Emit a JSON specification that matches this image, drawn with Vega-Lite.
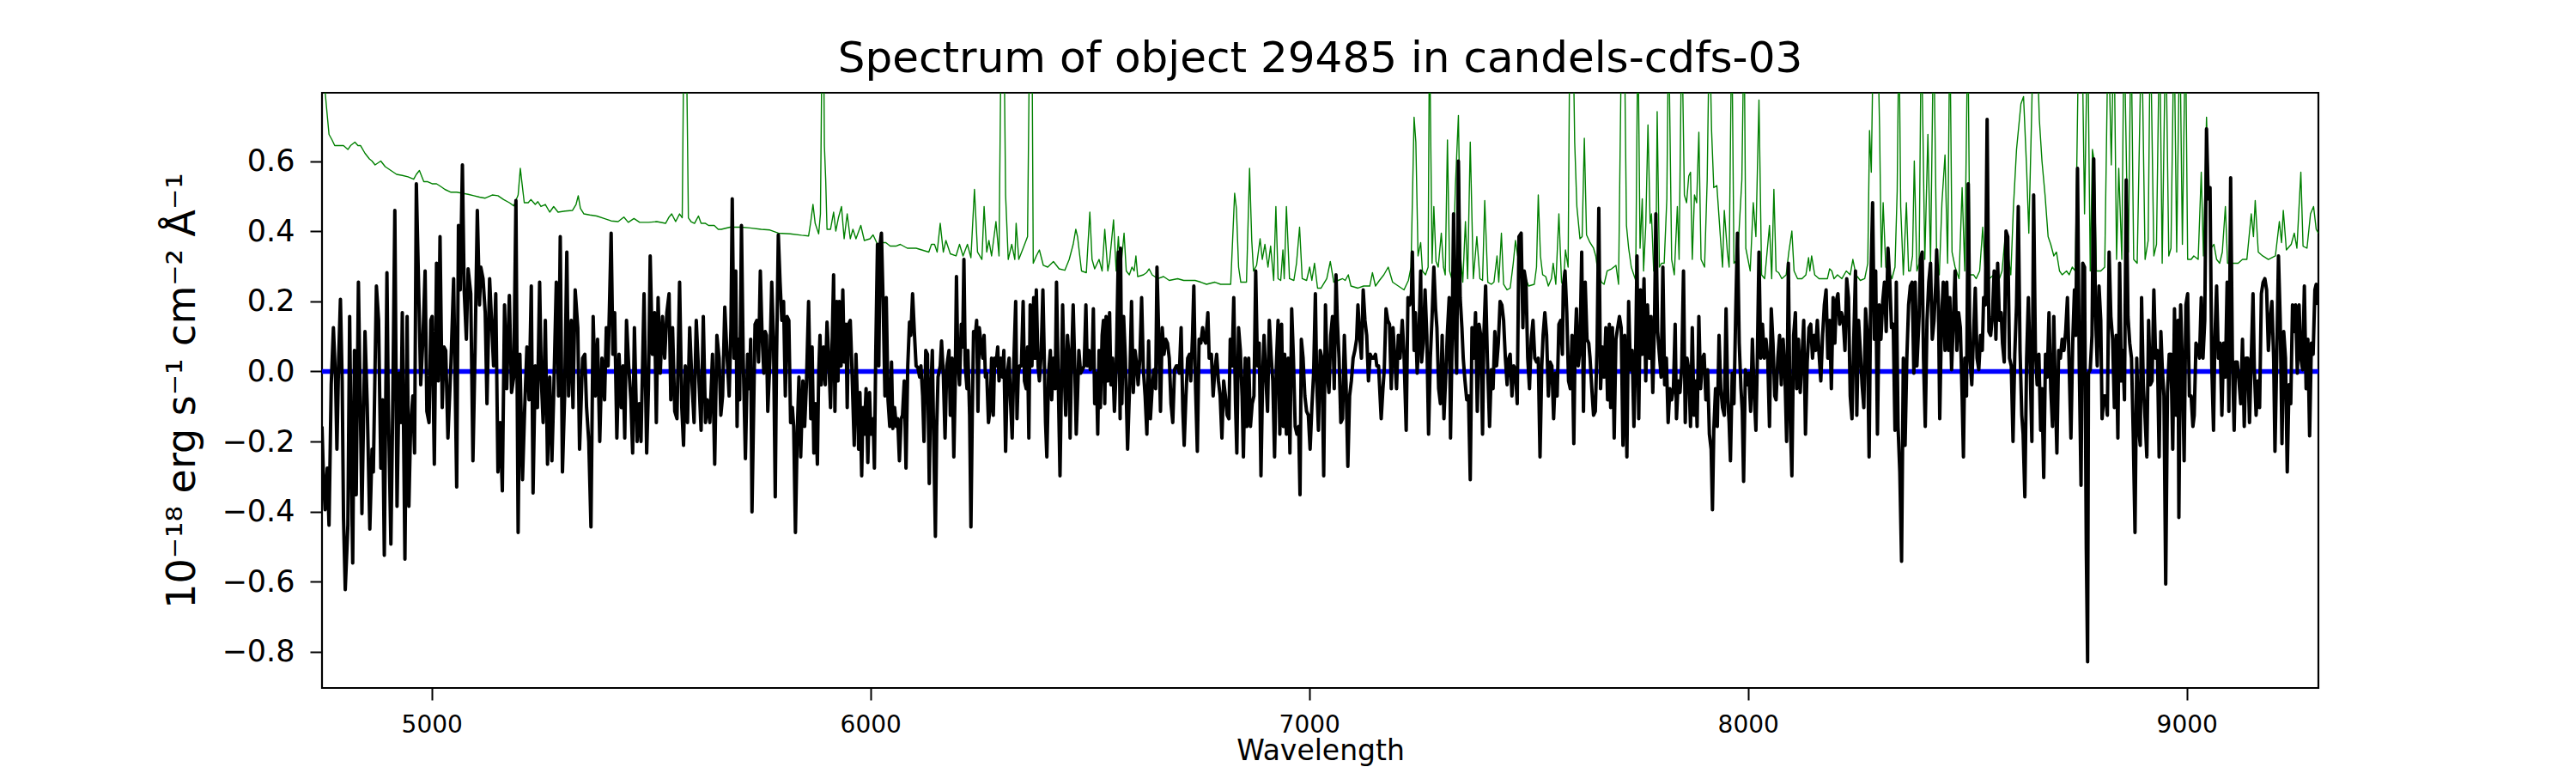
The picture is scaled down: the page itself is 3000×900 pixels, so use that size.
{
"$schema": "https://vega.github.io/schema/vega-lite/v6.json",
"width": 2325,
"height": 693,
"autosize": {"type": "none"},
"padding": {"left": 375, "top": 108, "right": 300, "bottom": 99},
"background": "white",
"title": {"text": "Spectrum of object 29485 in candels-cdfs-03", "fontSize": 50, "font": "DejaVu Sans", "fontWeight": "normal", "color": "black", "offset": 14, "anchor": "middle"},
"config": {
  "font": "DejaVu Sans",
  "view": {"stroke": "black", "strokeWidth": 2.2},
  "axis": {"grid": false, "domain": false, "ticks": true, "tickColor": "black", "tickWidth": 2, "tickSize": 14, "labelColor": "black", "titleColor": "black", "labelFont": "DejaVu Sans", "titleFont": "DejaVu Sans", "titleFontWeight": "normal"}
},
"datasets": {
"sky": [
{"w":4750,"f":0.95},{"w":4757,"f":0.80},{"w":4762,"f":0.731},{"w":4766,"f":0.677},{"w":4773,"f":0.661},{"w":4779,"f":0.645},{"w":4789,"f":0.645},{"w":4799,"f":0.645},{"w":4809,"f":0.634},{"w":4815,"f":0.645},{"w":4825,"f":0.655},{"w":4832,"f":0.645},{"w":4838,"f":0.645},{"w":4848,"f":0.623},{"w":4858,"f":0.607},{"w":4864,"f":0.601},{"w":4871,"f":0.590},{"w":4884,"f":0.601},{"w":4894,"f":0.585},{"w":4907,"f":0.574},{"w":4920,"f":0.563},{"w":4933,"f":0.560},{"w":4946,"f":0.556},{"w":4959,"f":0.549},{"w":4965,"f":0.563},{"w":4972,"f":0.574},{"w":4982,"f":0.542},{"w":4991,"f":0.542},{"w":5001,"f":0.536},{"w":5011,"f":0.536},{"w":5021,"f":0.528},{"w":5030,"f":0.520},{"w":5044,"f":0.512},{"w":5057,"f":0.512},{"w":5070,"f":0.509},{"w":5083,"f":0.506},{"w":5096,"f":0.502},{"w":5109,"f":0.498},{"w":5122,"f":0.495},{"w":5138,"f":0.504},{"w":5151,"f":0.502},{"w":5164,"f":0.491},{"w":5177,"f":0.482},{"w":5187,"f":0.473},{"w":5197,"f":0.504},{"w":5202,"f":0.580},{"w":5207,"f":0.525},{"w":5211,"f":0.482},{"w":5220,"f":0.482},{"w":5226,"f":0.491},{"w":5236,"f":0.477},{"w":5242,"f":0.485},{"w":5249,"f":0.471},{"w":5259,"f":0.477},{"w":5269,"f":0.455},{"w":5278,"f":0.471},{"w":5288,"f":0.455},{"w":5304,"f":0.458},{"w":5321,"f":0.460},{"w":5329,"f":0.477},{"w":5334,"f":0.502},{"w":5339,"f":0.466},{"w":5347,"f":0.450},{"w":5360,"f":0.447},{"w":5376,"f":0.444},{"w":5393,"f":0.437},{"w":5409,"f":0.430},{"w":5425,"f":0.428},{"w":5438,"f":0.441},{"w":5448,"f":0.426},{"w":5461,"f":0.437},{"w":5474,"f":0.426},{"w":5494,"f":0.426},{"w":5513,"f":0.428},{"w":5533,"f":0.423},{"w":5541,"f":0.441},{"w":5547,"f":0.450},{"w":5556,"f":0.428},{"w":5565,"f":0.450},{"w":5571,"f":0.439},{"w":5575,"f":1.0},{"w":5580,"f":1.0},{"w":5585,"f":0.439},{"w":5591,"f":0.428},{"w":5599,"f":0.423},{"w":5608,"f":0.444},{"w":5614,"f":0.423},{"w":5624,"f":0.423},{"w":5631,"f":0.417},{"w":5644,"f":0.417},{"w":5653,"f":0.406},
{"w":5660,"f":0.406},{"w":5680,"f":0.412},{"w":5706,"f":0.412},{"w":5725,"f":0.410},{"w":5751,"f":0.406},{"w":5771,"f":0.404},{"w":5790,"f":0.395},{"w":5817,"f":0.393},{"w":5843,"f":0.389},{"w":5859,"f":0.387},{"w":5864,"f":0.428},{"w":5869,"f":0.477},{"w":5874,"f":0.423},{"w":5882,"f":0.393},{"w":5886,"f":0.450},{"w":5890,"f":1.0},{"w":5893,"f":1.0},{"w":5895,"f":0.645},{"w":5898,"f":0.547},{"w":5901,"f":0.406},{"w":5909,"f":0.406},{"w":5916,"f":0.455},{"w":5921,"f":0.401},{"w":5927,"f":0.439},{"w":5934,"f":0.471},{"w":5940,"f":0.379},{"w":5947,"f":0.450},{"w":5954,"f":0.379},{"w":5960,"f":0.406},{"w":5967,"f":0.379},{"w":5978,"f":0.417},{"w":5986,"f":0.374},{"w":5999,"f":0.379},{"w":6006,"f":0.390},{"w":6016,"f":0.363},{"w":6025,"f":0.368},{"w":6035,"f":0.368},{"w":6045,"f":0.358},{"w":6058,"f":0.358},{"w":6068,"f":0.363},{"w":6084,"f":0.352},{"w":6104,"f":0.352},{"w":6117,"f":0.347},{"w":6133,"f":0.341},{"w":6139,"f":0.363},{"w":6146,"f":0.363},{"w":6152,"f":0.341},{"w":6159,"f":0.423},{"w":6166,"f":0.341},{"w":6172,"f":0.374},{"w":6182,"f":0.336},{"w":6195,"f":0.330},{"w":6203,"f":0.363},{"w":6211,"f":0.330},{"w":6221,"f":0.363},{"w":6229,"f":0.325},{"w":6237,"f":0.520},{"w":6244,"f":0.341},{"w":6254,"f":0.320},{"w":6259,"f":0.471},{"w":6265,"f":0.341},{"w":6270,"f":0.374},{"w":6276,"f":0.330},{"w":6286,"f":0.428},{"w":6293,"f":0.330},{"w":6298,"f":1.0},{"w":6304,"f":1.0},{"w":6308,"f":0.504},{"w":6314,"f":0.320},{"w":6322,"f":0.363},{"w":6329,"f":0.320},{"w":6332,"f":0.423},{"w":6338,"f":0.320},{"w":6348,"f":0.352},{"w":6358,"f":0.385},{"w":6363,"f":1.0},{"w":6368,"f":1.0},{"w":6371,"f":0.309},{"w":6378,"f":0.330},{"w":6385,"f":0.347},{"w":6394,"f":0.303},{"w":6404,"f":0.298},{"w":6417,"f":0.314},{"w":6430,"f":0.293},{"w":6443,"f":0.289},{"w":6453,"f":0.320},{"w":6462,"f":0.363},{"w":6468,"f":0.406},{"w":6472,"f":0.385},{"w":6481,"f":0.287},{"w":6492,"f":0.282},{"w":6500,"f":0.455},{"w":6505,"f":0.320},{"w":6511,"f":0.293},{"w":6521,"f":0.320},{"w":6528,"f":0.287},{"w":6534,"f":0.406},{"w":6541,"f":0.287},{"w":6545,"f":0.314},{"w":6554,"f":0.433},{"w":6560,"f":0.287},{"w":6565,"f":0.385},{"w":6570,"f":0.287},
{"w":6578,"f":0.395},{"w":6583,"f":0.287},{"w":6590,"f":0.276},{"w":6596,"f":0.298},{"w":6601,"f":0.287},{"w":6605,"f":0.330},{"w":6609,"f":0.271},{"w":6622,"f":0.276},{"w":6629,"f":0.282},{"w":6635,"f":0.293},{"w":6642,"f":0.276},{"w":6655,"f":0.265},{"w":6668,"f":0.271},{"w":6681,"f":0.260},{"w":6700,"f":0.265},{"w":6714,"f":0.260},{"w":6727,"f":0.260},{"w":6740,"f":0.260},{"w":6753,"f":0.255},{"w":6766,"f":0.249},{"w":6785,"f":0.255},{"w":6798,"f":0.249},{"w":6821,"f":0.249},{"w":6830,"f":0.509},{"w":6834,"f":0.466},{"w":6839,"f":0.298},{"w":6844,"f":0.255},{"w":6857,"f":0.255},{"w":6864,"f":0.580},{"w":6869,"f":0.374},{"w":6873,"f":0.287},{"w":6880,"f":0.303},{"w":6888,"f":0.379},{"w":6893,"f":0.320},{"w":6899,"f":0.363},{"w":6906,"f":0.298},{"w":6912,"f":0.358},{"w":6919,"f":0.260},{"w":6924,"f":0.471},{"w":6929,"f":0.265},{"w":6935,"f":0.260},{"w":6940,"f":0.347},{"w":6943,"f":0.265},{"w":6948,"f":0.471},{"w":6955,"f":0.265},{"w":6965,"f":0.260},{"w":6971,"f":0.309},{"w":6978,"f":0.412},{"w":6984,"f":0.265},{"w":6994,"f":0.260},{"w":7001,"f":0.298},{"w":7006,"f":0.260},{"w":7012,"f":0.309},{"w":7019,"f":0.238},{"w":7027,"f":0.238},{"w":7040,"f":0.265},{"w":7048,"f":0.314},{"w":7056,"f":0.255},{"w":7066,"f":0.260},{"w":7076,"f":0.265},{"w":7082,"f":0.260},{"w":7089,"f":0.276},{"w":7095,"f":0.244},{"w":7111,"f":0.238},{"w":7124,"f":0.244},{"w":7138,"f":0.244},{"w":7144,"f":0.282},{"w":7151,"f":0.244},{"w":7160,"f":0.260},{"w":7170,"f":0.276},{"w":7180,"f":0.298},{"w":7190,"f":0.255},{"w":7203,"f":0.244},{"w":7216,"f":0.233},{"w":7226,"f":0.260},{"w":7232,"f":0.298},{"w":7239,"f":0.726},{"w":7243,"f":0.655},{"w":7248,"f":0.330},{"w":7254,"f":0.368},{"w":7258,"f":0.287},{"w":7265,"f":0.276},{"w":7271,"f":0.298},{"w":7274,"f":1.0},{"w":7280,"f":0.309},{"w":7284,"f":0.471},{"w":7289,"f":0.314},{"w":7294,"f":0.298},{"w":7301,"f":0.395},{"w":7306,"f":0.298},{"w":7310,"f":0.276},{"w":7315,"f":0.661},{"w":7320,"f":0.287},{"w":7327,"f":0.255},{"w":7333,"f":0.525},{"w":7340,"f":0.731},{"w":7345,"f":0.330},{"w":7350,"f":0.255},{"w":7356,"f":0.428},{"w":7361,"f":0.265},{"w":7367,"f":0.655},{"w":7374,"f":0.265},{"w":7382,"f":0.385},{"w":7389,"f":0.265},{"w":7395,"f":0.260},{"w":7400,"f":0.488},{"w":7407,"f":0.255},{"w":7415,"f":0.249},{"w":7421,"f":0.255},{"w":7428,"f":0.330},{"w":7432,"f":0.255},{"w":7438,"f":0.395},{"w":7443,"f":0.249},{"w":7451,"f":0.233},{"w":7458,"f":0.238},{"w":7465,"f":0.309},{"w":7470,"f":0.374},{"w":7475,"f":0.330},{"w":7480,"f":0.341},
{"w":7487,"f":0.287},{"w":7500,"f":0.244},{"w":7513,"f":0.249},{"w":7518,"f":0.298},{"w":7522,"f":0.504},{"w":7527,"f":0.330},{"w":7532,"f":0.276},{"w":7539,"f":0.271},{"w":7545,"f":0.244},{"w":7552,"f":0.265},{"w":7556,"f":0.309},{"w":7562,"f":0.249},{"w":7569,"f":0.450},{"w":7575,"f":0.255},{"w":7579,"f":0.244},{"w":7584,"f":0.347},{"w":7590,"f":0.298},{"w":7594,"f":1.0},{"w":7601,"f":1.0},{"w":7605,"f":0.655},{"w":7610,"f":0.471},{"w":7617,"f":0.379},{"w":7622,"f":0.385},{"w":7627,"f":0.666},{"w":7632,"f":0.390},{"w":7640,"f":0.368},{"w":7648,"f":0.352},{"w":7653,"f":0.330},{"w":7657,"f":0.293},{"w":7666,"f":0.255},{"w":7672,"f":0.249},{"w":7679,"f":0.287},{"w":7689,"f":0.293},{"w":7699,"f":0.303},{"w":7705,"f":0.249},{"w":7712,"f":1.0},{"w":7718,"f":1.0},{"w":7723,"f":0.417},{"w":7728,"f":0.352},{"w":7734,"f":0.298},{"w":7744,"f":0.260},{"w":7749,"f":1.0},{"w":7754,"f":0.352},{"w":7759,"f":0.493},{"w":7762,"f":0.287},{"w":7767,"f":0.417},{"w":7772,"f":0.704},{"w":7777,"f":0.423},{"w":7780,"f":0.450},{"w":7785,"f":0.287},{"w":7790,"f":0.287},{"w":7793,"f":0.742},{"w":7798,"f":0.298},{"w":7803,"f":0.309},{"w":7809,"f":0.309},{"w":7815,"f":0.493},{"w":7819,"f":1.0},{"w":7826,"f":0.320},{"w":7832,"f":0.276},{"w":7839,"f":0.471},{"w":7843,"f":0.320},{"w":7849,"f":1.0},{"w":7855,"f":0.504},{"w":7860,"f":0.482},{"w":7865,"f":0.558},{"w":7869,"f":0.569},{"w":7873,"f":0.320},{"w":7878,"f":0.504},{"w":7883,"f":0.482},{"w":7888,"f":0.683},{"w":7893,"f":0.320},{"w":7901,"f":0.298},{"w":7907,"f":0.547},{"w":7912,"f":1.0},{"w":7917,"f":0.688},{"w":7922,"f":0.525},{"w":7929,"f":0.531},{"w":7937,"f":0.385},{"w":7942,"f":0.298},{"w":7946,"f":0.460},{"w":7953,"f":0.341},{"w":7957,"f":0.298},{"w":7963,"f":1.0},{"w":7968,"f":0.309},{"w":7976,"f":0.320},{"w":7986,"f":0.547},{"w":7991,"f":1.0},{"w":7995,"f":0.352},{"w":8005,"f":0.287},{"w":8012,"f":0.482},{"w":8018,"f":0.385},{"w":8025,"f":0.775},{"w":8031,"f":0.276},{"w":8038,"f":0.265},{"w":8049,"f":0.417},{"w":8054,"f":0.265},{"w":8059,"f":0.520},{"w":8064,"f":0.287},{"w":8070,"f":0.282},{"w":8077,"f":0.265},{"w":8087,"f":0.276},{"w":8093,"f":0.341},{"w":8100,"f":0.401},{"w":8105,"f":0.287},{"w":8113,"f":0.265},{"w":8123,"f":0.265},{"w":8132,"f":0.276},{"w":8138,"f":0.325},{"w":8141,"f":0.287},{"w":8145,"f":0.330},{"w":8152,"f":0.276},{"w":8162,"f":0.265},{"w":8171,"f":0.265},{"w":8181,"f":0.265},{"w":8186,"f":0.293},{"w":8191,"f":0.287},{"w":8196,"f":0.265},{"w":8204,"f":0.276},{"w":8214,"f":0.265},{"w":8224,"f":0.287},{"w":8233,"f":0.276},{"w":8239,"f":0.320},{"w":8246,"f":0.276},{"w":8256,"f":0.260},{"w":8266,"f":0.265},{"w":8273,"f":0.309},{"w":8277,"f":0.688},{"w":8281,"f":0.569},{"w":8286,"f":1.0},{"w":8291,"f":1.0},{"w":8295,"f":1.0},{"w":8300,"f":0.688},{"w":8304,"f":0.298},{"w":8308,"f":0.482},{"w":8314,"f":0.298},{"w":8321,"f":0.287},{"w":8328,"f":0.265},{"w":8335,"f":0.298},{"w":8340,"f":0.515},{"w":8344,"f":1.0},{"w":8348,"f":0.471},{"w":8354,"f":0.276},{"w":8361,"f":0.482},{"w":8366,"f":0.287},{"w":8370,"f":0.287},{"w":8375,"f":0.330},{"w":8379,"f":0.601},{"w":8385,"f":0.287},
{"w":8390,"f":0.309},{"w":8395,"f":1.0},{"w":8403,"f":0.320},{"w":8410,"f":0.677},{"w":8416,"f":0.309},{"w":8423,"f":1.0},{"w":8430,"f":0.320},{"w":8436,"f":0.276},{"w":8442,"f":0.482},{"w":8449,"f":0.618},{"w":8455,"f":0.309},{"w":8460,"f":1.0},{"w":8465,"f":0.341},{"w":8472,"f":0.298},{"w":8481,"f":0.265},{"w":8488,"f":0.525},{"w":8494,"f":0.287},{"w":8501,"f":1.0},{"w":8506,"f":0.276},{"w":8514,"f":0.276},{"w":8520,"f":0.265},{"w":8528,"f":0.287},{"w":8535,"f":0.412},{"w":8541,"f":0.276},{"w":8550,"f":0.265},{"w":8560,"f":0.276},{"w":8573,"f":0.265},{"w":8579,"f":0.287},{"w":8586,"f":0.385},{"w":8592,"f":0.341},{"w":8599,"f":0.276},{"w":8605,"f":0.471},{"w":8612,"f":0.634},{"w":8622,"f":0.764},{"w":8628,"f":0.785},{"w":8635,"f":0.580},{"w":8640,"f":0.395},{"w":8646,"f":0.710},{"w":8651,"f":1.0},{"w":8657,"f":1.0},{"w":8664,"f":0.720},{"w":8670,"f":0.601},{"w":8677,"f":0.504},{"w":8684,"f":0.385},{"w":8690,"f":0.363},{"w":8697,"f":0.330},{"w":8703,"f":0.341},{"w":8710,"f":0.287},{"w":8716,"f":0.276},{"w":8726,"f":0.287},{"w":8732,"f":0.276},{"w":8739,"f":0.298},{"w":8746,"f":0.287},{"w":8754,"f":1.0},{"w":8761,"f":1.0},{"w":8767,"f":0.450},{"w":8774,"f":1.0},{"w":8780,"f":0.287},{"w":8785,"f":0.634},{"w":8789,"f":0.601},{"w":8794,"f":0.287},{"w":8804,"f":0.287},{"w":8813,"f":0.298},{"w":8821,"f":1.0},{"w":8828,"f":0.590},{"w":8834,"f":1.0},{"w":8840,"f":0.320},{"w":8845,"f":0.580},{"w":8852,"f":0.320},{"w":8857,"f":1.0},{"w":8863,"f":0.558},{"w":8867,"f":0.341},{"w":8873,"f":1.0},{"w":8879,"f":0.320},{"w":8887,"f":0.309},{"w":8897,"f":1.0},{"w":8905,"f":0.320},{"w":8912,"f":0.374},{"w":8917,"f":1.0},{"w":8925,"f":0.330},{"w":8931,"f":0.363},{"w":8938,"f":1.0},{"w":8944,"f":0.309},{"w":8952,"f":1.0},{"w":8959,"f":0.330},{"w":8964,"f":0.352},{"w":8971,"f":1.0},{"w":8977,"f":0.341},{"w":8984,"f":1.0},{"w":8990,"f":0.363},{"w":8997,"f":1.0},{"w":9002,"f":0.320},{"w":9010,"f":0.320},{"w":9016,"f":0.330},{"w":9026,"f":0.320},{"w":9033,"f":0.569},{"w":9038,"f":0.330},{"w":9045,"f":0.726},{"w":9050,"f":0.525},{"w":9055,"f":0.352},{"w":9062,"f":0.363},{"w":9068,"f":0.320},{"w":9075,"f":0.309},{"w":9081,"f":0.341},{"w":9088,"f":0.471},{"w":9093,"f":0.309},{"w":9101,"f":0.309},{"w":9108,"f":0.309},{"w":9117,"f":0.309},{"w":9127,"f":0.320},{"w":9137,"f":0.320},{"w":9147,"f":0.450},{"w":9152,"f":0.385},{"w":9156,"f":0.488},{"w":9163,"f":0.341},{"w":9173,"f":0.330},{"w":9186,"f":0.320},{"w":9202,"f":0.330},{"w":9211,"f":0.428},{"w":9216,"f":0.368},{"w":9220,"f":0.460},{"w":9227,"f":0.347},{"w":9238,"f":0.363},{"w":9245,"f":0.395},{"w":9251,"f":0.352},{"w":9260,"f":0.569},{"w":9265,"f":0.358},{"w":9274,"f":0.352},{"w":9282,"f":0.450},{"w":9289,"f":0.471},{"w":9295,"f":0.406},{"w":9300,"f":0.395}
],
"zero": [{"w":4750,"f":0},{"w":9300,"f":0}],
"spec": [
{"w":4750,"f":-0.157},{"w":4753,"f":-0.287},{"w":4757,"f":-0.395},{"w":4762,"f":-0.276},{"w":4766,"f":-0.439},{"w":4771,"f":-0.038},{"w":4776,"f":0.125},{"w":4781,"f":-0.027},{"w":4784,"f":-0.222},{"w":4788,"f":0.038},{"w":4792,"f":0.206},{"w":4796,"f":-0.027},{"w":4799,"f":-0.417},{"w":4803,"f":-0.623},{"w":4809,"f":-0.439},{"w":4813,"f":0.157},{"w":4817,"f":-0.287},{"w":4820,"f":-0.547},{"w":4824,"f":0.060},{"w":4828,"f":-0.352},{"w":4833,"f":0.255},{"w":4837,"f":-0.070},{"w":4841,"f":-0.406},{"w":4848,"f":0.114},{"w":4853,"f":-0.092},{"w":4859,"f":-0.450},{"w":4864,"f":-0.222},{"w":4867,"f":-0.287},{"w":4874,"f":0.244},{"w":4879,"f":0.146},{"w":4884,"f":-0.276},{"w":4888,"f":-0.081},{"w":4892,"f":-0.525},{"w":4898,"f":0.282},{"w":4901,"f":-0.081},{"w":4907,"f":-0.493},{"w":4911,"f":-0.125},{"w":4916,"f":0.460},{"w":4921,"f":-0.385},{"w":4926,"f":-0.005},{"w":4930,"f":-0.146},{"w":4933,"f":0.168},{"w":4936,"f":-0.179},{"w":4939,"f":-0.536},{"w":4944,"f":0.157},{"w":4948,"f":-0.385},{"w":4952,"f":-0.157},{"w":4957,"f":-0.070},{"w":4961,"f":-0.233},{"w":4965,"f":0.536},{"w":4970,"f":0.255},{"w":4975,"f":-0.038},{"w":4980,"f":0.092},{"w":4985,"f":0.287},{"w":4989,"f":-0.114},{"w":4994,"f":-0.146},{"w":4998,"f":0.146},{"w":5001,"f":0.157},{"w":5006,"f":-0.265},{"w":5011,"f":0.309},{"w":5015,"f":-0.027},{"w":5019,"f":0.385},{"w":5024,"f":-0.103},{"w":5028,"f":0.070},{"w":5032,"f":0.060},{"w":5037,"f":-0.190},{"w":5044,"f":0.027},{"w":5050,"f":0.265},{"w":5057,"f":-0.330},{"w":5061,"f":0.417},{"w":5065,"f":0.233},{"w":5070,"f":0.590},{"w":5074,"f":0.233},{"w":5079,"f":0.092},{"w":5083,"f":0.293},{"w":5089,"f":0.222},{"w":5094,"f":-0.255},{"w":5099,"f":0.070},{"w":5104,"f":0.460},{"w":5109,"f":0.190},{"w":5112,"f":0.298},{"w":5117,"f":0.265},{"w":5122,"f":0.168},{"w":5126,"f":-0.092},{"w":5132,"f":0.265},{"w":5136,"f":0.157},{"w":5141,"f":0.016},{"w":5146,"f":0.222},{"w":5151,"f":-0.287},{"w":5156,"f":-0.146},{"w":5161,"f":-0.341},{"w":5166,"f":0.190},{"w":5171,"f":-0.049},{"w":5177,"f":0.217},{"w":5182,"f":-0.060},{"w":5187,"f":-0.016},{"w":5192,"f":0.488},{"w":5197,"f":-0.460},{"w":5201,"f":0.049},{"w":5207,"f":-0.309},{"w":5212,"f":-0.103},{"w":5217,"f":0.070},{"w":5222,"f":-0.081},{"w":5227,"f":0.244},{"w":5231,"f":-0.347},{"w":5236,"f":0.016},{"w":5241,"f":-0.103},{"w":5246,"f":0.255},{"w":5250,"f":-0.027},{"w":5254,"f":-0.146},{"w":5259,"f":0.146},{"w":5264,"f":-0.265},{"w":5269,"f":-0.016},{"w":5274,"f":-0.255},{"w":5278,"f":-0.070},{"w":5284,"f":0.255},{"w":5289,"f":-0.070},{"w":5293,"f":0.385},{"w":5298,"f":-0.287},{"w":5303,"f":-0.070},{"w":5308,"f":0.341},{"w":5312,"f":-0.070},{"w":5318,"f":0.146},{"w":5322,"f":-0.103},{"w":5327,"f":0.233},{"w":5333,"f":0.125},{"w":5337,"f":-0.222},{"w":5344,"f":0.038},{"w":5349,"f":0.049},{"w":5353,"f":-0.103},{"w":5358,"f":-0.200},{"w":5363,"f":-0.444},{"w":5368,"f":0.157},{"w":5373,"f":-0.070},{"w":5378,"f":0.092},{"w":5383,"f":-0.200},{"w":5388,"f":0.038},{"w":5394,"f":-0.081},{"w":5398,"f":0.125},{"w":5402,"f":0.016},{"w":5409,"f":0.395},{"w":5413,"f":0.049},{"w":5417,"f":0.168},{"w":5422,"f":-0.190},{"w":5427,"f":0.049},{"w":5432,"f":-0.103},{"w":5436,"f":0.016},{"w":5440,"f":-0.190},{"w":5444,"f":0.146},{"w":5449,"f":0.016},{"w":5454,"f":-0.081},{"w":5458,"f":-0.233},{"w":5462,"f":0.125},{"w":5468,"f":-0.200},{"w":5473,"f":-0.092},{"w":5477,"f":-0.200},{"w":5484,"f":0.222},{"w":5490,"f":-0.233},{"w":5494,"f":-0.049},{"w":5498,"f":0.330},{"w":5503,"f":0.049},{"w":5508,"f":0.168},{"w":5512,"f":-0.146},{"w":5516,"f":0.211},{"w":5521,"f":-0.005},{"w":5526,"f":0.157},{"w":5531,"f":0.038},{"w":5536,"f":0.168},{"w":5541,"f":0.222},{"w":5545,"f":-0.081},{"w":5549,"f":0.125},{"w":5554,"f":-0.114},{"w":5559,"f":-0.135},{"w":5565,"f":0.255},{"w":5570,"f":-0.103},{"w":5574,"f":-0.211},{"w":5578,"f":0.016},{"w":5583,"f":-0.146},{"w":5588,"f":0.125},{"w":5593,"f":-0.027},{"w":5598,"f":-0.146},{"w":5603,"f":0.146},{"w":5608,"f":0.005},{"w":5614,"f":-0.168},{"w":5619,"f":0.157},{"w":5624,"f":-0.146},{"w":5628,"f":-0.081},{"w":5634,"f":-0.146},{"w":5640,"f":0.049},{"w":5645,"f":-0.265},{"w":5650,"f":0.103},{"w":5655,"f":0.038},{"w":5659,"f":-0.125},
{"w":5663,"f":-0.070},{"w":5668,"f":0.184},{"w":5673,"f":0.049},{"w":5678,"f":-0.070},{"w":5682,"f":0.125},{"w":5685,"f":0.493},{"w":5689,"f":0.038},{"w":5693,"f":0.287},{"w":5696,"f":-0.157},{"w":5699,"f":0.092},{"w":5702,"f":-0.081},{"w":5706,"f":0.417},{"w":5710,"f":0.038},{"w":5715,"f":-0.249},{"w":5720,"f":0.049},{"w":5724,"f":-0.049},{"w":5727,"f":0.092},{"w":5730,"f":-0.401},{"w":5734,"f":-0.092},{"w":5737,"f":0.135},{"w":5741,"f":0.146},{"w":5745,"f":0.027},{"w":5749,"f":0.287},{"w":5753,"f":0.103},{"w":5757,"f":-0.005},{"w":5760,"f":0.114},{"w":5763,"f":0.103},{"w":5766,"f":-0.114},{"w":5771,"f":0.038},{"w":5775,"f":0.255},{"w":5779,"f":0.092},{"w":5783,"f":-0.358},{"w":5786,"f":0.038},{"w":5790,"f":0.390},{"w":5794,"f":0.255},{"w":5798,"f":0.146},{"w":5802,"f":0.200},{"w":5806,"f":-0.070},{"w":5810,"f":0.157},{"w":5814,"f":0.146},{"w":5818,"f":-0.146},{"w":5822,"f":-0.103},{"w":5825,"f":-0.157},{"w":5829,"f":-0.460},{"w":5833,"f":-0.179},{"w":5837,"f":-0.016},{"w":5841,"f":-0.244},{"w":5846,"f":-0.027},{"w":5850,"f":-0.157},{"w":5854,"f":-0.038},{"w":5859,"f":0.200},{"w":5864,"f":-0.135},{"w":5867,"f":0.070},{"w":5871,"f":-0.233},{"w":5875,"f":-0.092},{"w":5879,"f":-0.265},{"w":5882,"f":-0.005},{"w":5885,"f":0.103},{"w":5888,"f":-0.038},{"w":5893,"f":0.070},{"w":5897,"f":-0.038},{"w":5901,"f":0.141},{"w":5905,"f":0.038},{"w":5909,"f":-0.103},{"w":5913,"f":0.103},{"w":5916,"f":0.276},{"w":5919,"f":-0.114},{"w":5923,"f":0.200},{"w":5926,"f":-0.027},{"w":5929,"f":0.200},{"w":5933,"f":0.016},{"w":5937,"f":0.233},{"w":5940,"f":0.027},{"w":5944,"f":0.135},{"w":5947,"f":-0.103},{"w":5950,"f":0.135},{"w":5954,"f":0.146},{"w":5957,"f":0.038},{"w":5963,"f":-0.211},{"w":5967,"f":0.049},{"w":5971,"f":-0.114},{"w":5973,"f":-0.222},{"w":5976,"f":-0.060},{"w":5980,"f":-0.298},{"w":5983,"f":-0.103},{"w":5986,"f":-0.179},{"w":5990,"f":-0.049},{"w":5994,"f":-0.260},{"w":5998,"f":-0.060},{"w":6001,"f":-0.179},{"w":6006,"f":-0.135},{"w":6009,"f":-0.276},{"w":6012,"f":0.049},{"w":6016,"f":0.363},{"w":6019,"f":0.016},{"w":6022,"f":0.363},{"w":6025,"f":0.395},{"w":6029,"f":0.190},{"w":6033,"f":-0.070},{"w":6036,"f":0.211},{"w":6040,"f":-0.081},{"w":6044,"f":-0.157},{"w":6048,"f":0.027},{"w":6051,"f":-0.163},{"w":6055,"f":-0.103},{"w":6059,"f":-0.157},{"w":6062,"f":-0.135},{"w":6066,"f":-0.255},{"w":6070,"f":-0.135},{"w":6073,"f":-0.125},{"w":6077,"f":-0.027},{"w":6081,"f":-0.276},{"w":6085,"f":0.016},{"w":6089,"f":0.141},{"w":6092,"f":0.103},{"w":6096,"f":0.222},{"w":6100,"f":0.114},{"w":6104,"f":0.016},{"w":6108,"f":0.011},{"w":6112,"f":-0.016},{"w":6115,"f":0.016},{"w":6119,"f":-0.070},{"w":6122,"f":-0.200},{"w":6126,"f":0.060},{"w":6130,"f":0.049},{"w":6134,"f":-0.320},{"w":6137,"f":-0.070},{"w":6141,"f":0.060},{"w":6144,"f":-0.179},{"w":6148,"f":-0.471},{"w":6151,"f":-0.157},{"w":6154,"f":-0.016},{"w":6159,"f":0.016},{"w":6162,"f":0.087},{"w":6166,"f":-0.005},{"w":6170,"f":-0.190},{"w":6174,"f":0.016},{"w":6179,"f":0.060},{"w":6182,"f":-0.125},{"w":6186,"f":0.038},{"w":6190,"f":-0.244},{"w":6193,"f":-0.049},{"w":6196,"f":0.271},{"w":6199,"f":0.038},{"w":6203,"f":-0.038},{"w":6207,"f":0.135},{"w":6210,"f":0.070},{"w":6213,"f":0.320},{"w":6216,"f":0.016},{"w":6220,"f":-0.049},{"w":6222,"f":0.060},{"w":6226,"f":-0.125},{"w":6229,"f":-0.444},{"w":6232,"f":-0.125},{"w":6235,"f":0.114},{"w":6239,"f":0.103},{"w":6242,"f":0.146},{"w":6245,"f":-0.114},{"w":6248,"f":0.125},{"w":6252,"f":0.081},{"w":6256,"f":0.038},{"w":6259,"f":0.103},{"w":6262,"f":-0.016},{"w":6265,"f":-0.005},{"w":6269,"f":-0.146},{"w":6273,"f":-0.103},{"w":6276,"f":0.038},{"w":6280,"f":-0.125},{"w":6283,"f":0.038},{"w":6286,"f":0.016},{"w":6290,"f":0.070},{"w":6293,"f":-0.027},{"w":6297,"f":0.038},{"w":6301,"f":-0.016},{"w":6304,"f":0.060},{"w":6308,"f":-0.228},{"w":6312,"f":-0.005},{"w":6316,"f":0.038},{"w":6319,"f":-0.081},{"w":6323,"f":-0.190},{"w":6327,"f":0.038},{"w":6331,"f":0.200},{"w":6334,"f":-0.135},{"w":6337,"f":-0.005},{"w":6340,"f":0.016},{"w":6344,"f":0.016},{"w":6348,"f":0.200},{"w":6351,"f":-0.027},{"w":6355,"f":-0.049},{"w":6358,"f":0.070},{"w":6361,"f":-0.190},{"w":6364,"f":0.190},{"w":6368,"f":0.016},{"w":6372,"f":0.211},{"w":6375,"f":0.038},{"w":6378,"f":0.233},{"w":6382,"f":0.016},{"w":6385,"f":-0.027},{"w":6389,"f":0.049},{"w":6393,"f":0.233},{"w":6396,"f":0.049},{"w":6399,"f":-0.146},{"w":6402,"f":-0.244},{"w":6406,"f":-0.005},{"w":6410,"f":0.060},{"w":6413,"f":-0.081},{"w":6417,"f":0.038},{"w":6421,"f":-0.049},{"w":6424,"f":0.255},{"w":6428,"f":-0.027},{"w":6432,"f":-0.298},{"w":6435,"f":-0.049},{"w":6438,"f":0.190},{"w":6441,"f":0.027},{"w":6445,"f":-0.125},{"w":6449,"f":0.103},{"w":6452,"f":0.049},{"w":6455,"f":-0.190},{"w":6458,"f":0.016},{"w":6462,"f":0.190},{"w":6466,"f":-0.005},{"w":6469,"f":-0.179},{"w":6472,"f":-0.070},{"w":6475,"f":0.060},{"w":6479,"f":-0.005},{"w":6483,"f":0.005},{"w":6487,"f":0.016},{"w":6491,"f":0.190},{"w":6494,"f":0.016},{"w":6498,"f":0.060},{"w":6501,"f":0.005},{"w":6505,"f":0.016},{"w":6508,"f":0.179},{"w":6511,"f":-0.092},{"w":6515,"f":-0.005},{"w":6518,"f":-0.179},{"w":6521,"f":0.060},{"w":6524,"f":-0.103},{"w":6528,"f":0.103},{"w":6531,"f":0.146},{"w":6534,"f":-0.092},{"w":6537,"f":0.157},{"w":6541,"f":-0.027},{"w":6545,"f":0.168},{"w":6548,"f":-0.038},{"w":6552,"f":0.038},{"w":6556,"f":-0.114},{"w":6560,"f":0.005},{"w":6565,"f":0.341},{"w":6569,"f":-0.135},
{"w":6570,"f":0.352},{"w":6573,"f":-0.092},{"w":6577,"f":0.157},{"w":6581,"f":0.038},{"w":6586,"f":-0.222},{"w":6591,"f":-0.027},{"w":6595,"f":0.200},{"w":6599,"f":-0.060},{"w":6603,"f":0.060},{"w":6607,"f":0.016},{"w":6610,"f":-0.038},{"w":6614,"f":0.038},{"w":6618,"f":0.211},{"w":6622,"f":0.005},{"w":6626,"f":-0.070},{"w":6630,"f":-0.179},{"w":6634,"f":0.087},{"w":6638,"f":-0.135},{"w":6642,"f":-0.049},{"w":6646,"f":0.005},{"w":6650,"f":-0.049},{"w":6653,"f":0.298},{"w":6657,"f":0.103},{"w":6661,"f":-0.114},{"w":6665,"f":0.125},{"w":6669,"f":0.049},{"w":6673,"f":0.092},{"w":6677,"f":0.081},{"w":6681,"f":0.038},{"w":6685,"f":-0.092},{"w":6689,"f":-0.146},{"w":6693,"f":0.005},{"w":6697,"f":0.016},{"w":6700,"f":0.016},{"w":6704,"f":-0.005},{"w":6708,"f":0.125},{"w":6712,"f":-0.114},{"w":6715,"f":-0.211},{"w":6719,"f":-0.070},{"w":6723,"f":0.038},{"w":6727,"f":0.049},{"w":6730,"f":-0.027},{"w":6734,"f":0.103},{"w":6737,"f":0.244},{"w":6741,"f":-0.049},{"w":6745,"f":-0.228},{"w":6749,"f":0.092},{"w":6753,"f":0.081},{"w":6757,"f":0.125},{"w":6760,"f":0.092},{"w":6764,"f":0.081},{"w":6769,"f":0.168},{"w":6772,"f":0.038},{"w":6777,"f":0.049},{"w":6781,"f":-0.070},{"w":6785,"f":0.005},{"w":6789,"f":0.049},{"w":6793,"f":-0.027},{"w":6797,"f":-0.070},{"w":6801,"f":-0.190},{"w":6805,"f":-0.027},{"w":6809,"f":-0.070},{"w":6813,"f":-0.125},{"w":6817,"f":-0.135},{"w":6820,"f":0.092},{"w":6824,"f":0.016},{"w":6828,"f":0.211},{"w":6832,"f":-0.092},{"w":6835,"f":-0.233},{"w":6839,"f":0.125},{"w":6843,"f":0.060},{"w":6847,"f":-0.070},{"w":6850,"f":-0.244},{"w":6854,"f":0.038},{"w":6858,"f":-0.157},{"w":6862,"f":0.038},{"w":6866,"f":-0.157},{"w":6870,"f":-0.092},{"w":6874,"f":-0.070},{"w":6878,"f":0.287},{"w":6882,"f":0.016},{"w":6886,"f":0.081},{"w":6890,"f":-0.298},{"w":6894,"f":-0.005},{"w":6897,"f":0.103},{"w":6901,"f":-0.016},{"w":6905,"f":-0.114},{"w":6909,"f":0.146},{"w":6913,"f":0.049},{"w":6917,"f":-0.027},{"w":6921,"f":-0.244},{"w":6925,"f":0.016},{"w":6929,"f":0.146},{"w":6933,"f":-0.179},{"w":6937,"f":0.135},{"w":6941,"f":-0.157},{"w":6944,"f":0.049},{"w":6948,"f":-0.179},{"w":6952,"f":0.038},{"w":6956,"f":-0.233},{"w":6960,"f":0.179},{"w":6964,"f":0.038},{"w":6968,"f":-0.157},{"w":6972,"f":-0.179},{"w":6976,"f":-0.157},{"w":6979,"f":-0.352},{"w":6982,"f":0.092},{"w":6986,"f":0.038},{"w":6990,"f":-0.070},{"w":6994,"f":-0.114},{"w":6998,"f":-0.125},{"w":7002,"f":-0.222},{"w":7006,"f":-0.103},{"w":7010,"f":-0.005},{"w":7014,"f":0.222},{"w":7017,"f":-0.027},{"w":7021,"f":-0.168},{"w":7025,"f":0.060},{"w":7029,"f":0.038},{"w":7033,"f":-0.298},{"w":7037,"f":0.190},{"w":7041,"f":-0.005},{"w":7045,"f":-0.060},{"w":7049,"f":0.103},{"w":7053,"f":0.157},{"w":7057,"f":-0.049},{"w":7061,"f":0.276},{"w":7064,"f":0.146},{"w":7068,"f":0.038},{"w":7072,"f":-0.146},{"w":7076,"f":-0.135},{"w":7080,"f":0.103},{"w":7084,"f":-0.038},{"w":7088,"f":-0.271},{"w":7092,"f":-0.070},{"w":7096,"f":-0.027},{"w":7100,"f":0.038},{"w":7104,"f":0.060},{"w":7108,"f":0.092},{"w":7111,"f":0.190},{"w":7115,"f":0.103},{"w":7119,"f":0.038},{"w":7123,"f":0.233},{"w":7127,"f":0.146},{"w":7131,"f":0.103},{"w":7135,"f":-0.027},{"w":7139,"f":0.049},{"w":7143,"f":0.038},{"w":7147,"f":0.038},{"w":7151,"f":0.049},{"w":7154,"f":0.016},{"w":7158,"f":0.016},{"w":7164,"f":-0.135},{"w":7168,"f":-0.049},{"w":7171,"f":0.005},{"w":7175,"f":0.179},{"w":7179,"f":0.146},{"w":7183,"f":0.135},{"w":7187,"f":-0.049},{"w":7191,"f":0.125},{"w":7195,"f":0.038},{"w":7199,"f":-0.049},{"w":7203,"f":0.103},{"w":7207,"f":0.038},{"w":7212,"f":0.146},{"w":7216,"f":0.049},{"w":7221,"f":-0.168},{"w":7225,"f":0.211},{"w":7229,"f":0.190},{"w":7233,"f":0.222},{"w":7235,"f":0.341},{"w":7239,"f":0.060},{"w":7242,"f":0.168},{"w":7246,"f":-0.005},{"w":7250,"f":0.103},{"w":7254,"f":0.287},{"w":7256,"f":0.027},{"w":7260,"f":0.081},{"w":7264,"f":0.233},{"w":7268,"f":0.103},{"w":7272,"f":-0.179},{"w":7276,"f":0.038},{"w":7280,"f":0.157},{"w":7284,"f":0.298},{"w":7288,"f":0.179},{"w":7291,"f":0.125},{"w":7295,"f":-0.049},{"w":7299,"f":-0.092},{"w":7303,"f":0.103},{"w":7307,"f":-0.135},{"w":7311,"f":-0.016},{"w":7315,"f":0.114},{"w":7319,"f":0.211},{"w":7322,"f":-0.190},{"w":7325,"f":0.038},{"w":7329,"f":0.450},{"w":7332,"f":0.146},{"w":7336,"f":-0.005},{"w":7340,"f":0.601},{"w":7344,"f":0.211},{"w":7348,"f":0.125},{"w":7351,"f":0.038},{"w":7355,"f":-0.027},{"w":7359,"f":-0.081},{"w":7363,"f":-0.070},{"w":7367,"f":-0.309},{"w":7371,"f":0.125},{"w":7375,"f":0.038},{"w":7379,"f":0.168},{"w":7383,"f":-0.114},{"w":7387,"f":0.135},{"w":7391,"f":0.103},{"w":7395,"f":-0.179},{"w":7398,"f":0.103},{"w":7402,"f":0.244},{"w":7406,"f":0.038},{"w":7411,"f":-0.157},{"w":7415,"f":0.005},{"w":7419,"f":-0.049},{"w":7423,"f":0.114},{"w":7427,"f":0.016},{"w":7431,"f":0.081},{"w":7435,"f":0.200},{"w":7439,"f":0.190},{"w":7443,"f":0.146},{"w":7447,"f":0.038},{"w":7451,"f":-0.038},{"w":7455,"f":0.038},{"w":7458,"f":0.049},{"w":7462,"f":-0.070},{"w":7466,"f":0.016},{"w":7470,"f":0.005},{"w":7474,"f":-0.092},{"w":7478,"f":0.385},
{"w":7483,"f":0.395},{"w":7487,"f":0.125},{"w":7490,"f":0.287},{"w":7494,"f":0.255},{"w":7498,"f":0.038},{"w":7502,"f":-0.049},{"w":7506,"f":0.092},{"w":7510,"f":0.146},{"w":7514,"f":0.038},{"w":7518,"f":0.027},{"w":7522,"f":0.038},{"w":7526,"f":-0.244},{"w":7530,"f":0.016},{"w":7533,"f":0.103},{"w":7537,"f":0.168},{"w":7541,"f":0.103},{"w":7545,"f":-0.070},{"w":7549,"f":0.027},{"w":7553,"f":0.016},{"w":7557,"f":-0.135},{"w":7561,"f":-0.005},{"w":7565,"f":-0.070},{"w":7569,"f":0.135},{"w":7573,"f":0.146},{"w":7577,"f":0.049},{"w":7579,"f":0.244},{"w":7583,"f":0.287},{"w":7587,"f":0.168},{"w":7591,"f":-0.027},{"w":7595,"f":-0.049},{"w":7599,"f":0.103},{"w":7603,"f":-0.206},{"w":7606,"f":0.081},{"w":7609,"f":0.179},{"w":7613,"f":0.016},{"w":7617,"f":0.060},{"w":7621,"f":0.341},{"w":7625,"f":-0.114},{"w":7629,"f":0.255},{"w":7633,"f":0.092},{"w":7637,"f":0.081},{"w":7640,"f":0.038},{"w":7644,"f":-0.049},{"w":7648,"f":-0.125},{"w":7652,"f":-0.114},{"w":7656,"f":0.070},{"w":7660,"f":0.466},{"w":7664,"f":-0.049},{"w":7668,"f":0.070},{"w":7672,"f":-0.016},{"w":7676,"f":0.125},{"w":7680,"f":-0.081},{"w":7684,"f":0.135},{"w":7687,"f":-0.103},{"w":7691,"f":0.125},{"w":7695,"f":-0.190},{"w":7699,"f":0.092},{"w":7703,"f":0.125},{"w":7707,"f":0.157},{"w":7711,"f":0.125},{"w":7715,"f":-0.211},{"w":7719,"f":0.103},{"w":7724,"f":-0.244},{"w":7728,"f":0.200},{"w":7732,"f":0.005},{"w":7736,"f":0.060},{"w":7740,"f":-0.157},{"w":7744,"f":0.049},{"w":7747,"f":0.330},{"w":7751,"f":-0.135},{"w":7755,"f":0.233},{"w":7759,"f":0.049},{"w":7763,"f":0.265},{"w":7767,"f":-0.027},{"w":7771,"f":0.190},{"w":7775,"f":0.038},{"w":7779,"f":0.157},{"w":7783,"f":-0.060},{"w":7787,"f":0.146},{"w":7790,"f":0.450},{"w":7794,"f":0.114},{"w":7798,"f":0.049},{"w":7802,"f":-0.016},{"w":7806,"f":0.298},{"w":7810,"f":-0.038},{"w":7814,"f":0.038},{"w":7818,"f":-0.146},{"w":7822,"f":-0.049},{"w":7826,"f":-0.081},{"w":7830,"f":-0.049},{"w":7834,"f":0.135},{"w":7837,"f":-0.135},{"w":7841,"f":-0.027},{"w":7845,"f":-0.060},{"w":7849,"f":0.016},{"w":7853,"f":0.287},{"w":7857,"f":-0.146},{"w":7861,"f":0.038},{"w":7865,"f":0.005},{"w":7869,"f":-0.157},{"w":7873,"f":0.125},{"w":7877,"f":-0.125},{"w":7881,"f":-0.027},{"w":7884,"f":-0.157},{"w":7888,"f":0.157},{"w":7892,"f":-0.049},{"w":7896,"f":0.038},{"w":7900,"f":0.049},{"w":7904,"f":-0.081},{"w":7908,"f":0.005},{"w":7912,"f":-0.179},{"w":7916,"f":-0.222},{"w":7919,"f":-0.395},{"w":7922,"f":-0.168},{"w":7926,"f":-0.049},{"w":7930,"f":-0.157},{"w":7934,"f":0.103},{"w":7938,"f":-0.049},{"w":7942,"f":-0.103},{"w":7946,"f":-0.125},{"w":7950,"f":0.179},{"w":7954,"f":-0.081},{"w":7957,"f":-0.146},{"w":7960,"f":-0.255},{"w":7964,"f":-0.005},{"w":7968,"f":-0.092},{"w":7972,"f":0.168},{"w":7976,"f":0.395},{"w":7980,"f":0.081},{"w":7984,"f":-0.049},{"w":7987,"f":-0.114},{"w":7990,"f":-0.314},{"w":7994,"f":0.005},{"w":7998,"f":-0.038},{"w":8002,"f":-0.005},{"w":8006,"f":-0.114},{"w":8010,"f":0.092},{"w":8014,"f":-0.060},{"w":8018,"f":-0.168},{"w":8021,"f":0.016},{"w":8025,"f":0.341},{"w":8029,"f":0.038},{"w":8033,"f":0.135},{"w":8037,"f":0.038},{"w":8041,"f":0.092},{"w":8045,"f":0.038},{"w":8049,"f":-0.157},{"w":8053,"f":0.179},{"w":8057,"f":0.081},{"w":8061,"f":-0.070},{"w":8064,"f":-0.081},{"w":8068,"f":0.038},{"w":8072,"f":0.103},{"w":8076,"f":-0.038},{"w":8080,"f":0.092},{"w":8084,"f":0.005},{"w":8088,"f":-0.200},{"w":8092,"f":0.309},{"w":8096,"f":-0.125},{"w":8100,"f":-0.298},{"w":8104,"f":0.103},{"w":8108,"f":0.168},{"w":8111,"f":-0.049},{"w":8115,"f":0.092},{"w":8119,"f":-0.060},{"w":8123,"f":0.038},{"w":8127,"f":0.146},{"w":8131,"f":-0.179},{"w":8135,"f":0.027},{"w":8139,"f":0.125},{"w":8143,"f":0.135},{"w":8147,"f":0.038},{"w":8151,"f":0.103},{"w":8154,"f":0.060},{"w":8158,"f":0.146},{"w":8162,"f":0.049},{"w":8166,"f":-0.027},{"w":8170,"f":0.103},{"w":8174,"f":0.190},{"w":8178,"f":0.233},{"w":8182,"f":0.038},{"w":8186,"f":0.146},{"w":8190,"f":-0.049},{"w":8194,"f":0.211},{"w":8198,"f":0.081},{"w":8201,"f":0.200},{"w":8205,"f":0.222},{"w":8209,"f":0.135},{"w":8213,"f":0.168},{"w":8217,"f":0.146},{"w":8221,"f":0.060},{"w":8225,"f":0.265},{"w":8229,"f":0.211},{"w":8233,"f":-0.070},{"w":8237,"f":-0.135},{"w":8241,"f":0.092},{"w":8245,"f":0.287},{"w":8248,"f":-0.125},{"w":8252,"f":0.146},{"w":8256,"f":0.060},{"w":8260,"f":-0.038},{"w":8264,"f":-0.103},{"w":8268,"f":0.179},{"w":8272,"f":0.103},{"w":8276,"f":-0.244},{"w":8280,"f":0.255},{"w":8284,"f":0.482},{"w":8288,"f":0.092},{"w":8291,"f":0.287},{"w":8295,"f":-0.179},{"w":8299,"f":0.190},{"w":8303,"f":0.092},{"w":8307,"f":0.200},{"w":8311,"f":0.255},{"w":8315,"f":0.114},{"w":8319,"f":0.352},{"w":8323,"f":0.265},{"w":8327,"f":0.125},{"w":8331,"f":0.135},{"w":8335,"f":-0.168},{"w":8338,"f":0.255},{"w":8342,"f":-0.157},{"w":8346,"f":-0.287},{"w":8350,"f":-0.542},{"w":8354,"f":0.038},{"w":8358,"f":-0.211},{"w":8362,"f":0.038},{"w":8366,"f":0.190},{"w":8370,"f":0.244},{"w":8374,"f":0.255},{"w":8378,"f":-0.005},{"w":8381,"f":0.255},{"w":8385,"f":0.016},
{"w":8390,"f":0.157},{"w":8393,"f":0.320},{"w":8397,"f":0.341},{"w":8400,"f":0.038},{"w":8404,"f":-0.157},{"w":8408,"f":0.146},{"w":8412,"f":0.255},{"w":8416,"f":0.309},{"w":8420,"f":0.092},{"w":8424,"f":0.146},{"w":8428,"f":0.255},{"w":8430,"f":0.347},{"w":8434,"f":0.190},{"w":8437,"f":-0.135},{"w":8441,"f":0.146},{"w":8445,"f":0.255},{"w":8449,"f":0.060},{"w":8453,"f":0.255},{"w":8457,"f":0.060},{"w":8460,"f":0.211},{"w":8464,"f":0.005},{"w":8468,"f":0.146},{"w":8472,"f":0.287},{"w":8476,"f":0.060},{"w":8480,"f":0.168},{"w":8484,"f":0.125},{"w":8488,"f":-0.070},{"w":8491,"f":-0.244},{"w":8494,"f":0.038},{"w":8498,"f":-0.070},{"w":8502,"f":0.536},{"w":8506,"f":0.038},{"w":8510,"f":-0.038},{"w":8514,"f":0.103},{"w":8518,"f":0.238},{"w":8522,"f":0.038},{"w":8526,"f":0.005},{"w":8530,"f":0.103},{"w":8534,"f":0.060},{"w":8537,"f":0.211},{"w":8541,"f":0.190},{"w":8545,"f":0.720},{"w":8549,"f":0.114},{"w":8553,"f":0.103},{"w":8557,"f":0.157},{"w":8561,"f":0.287},{"w":8565,"f":0.092},{"w":8569,"f":0.309},{"w":8573,"f":0.146},{"w":8577,"f":0.168},{"w":8580,"f":0.081},{"w":8584,"f":0.027},{"w":8588,"f":0.401},{"w":8592,"f":0.385},{"w":8596,"f":0.038},{"w":8600,"f":0.016},{"w":8604,"f":-0.200},{"w":8608,"f":0.049},{"w":8612,"f":0.190},{"w":8616,"f":0.471},{"w":8620,"f":0.060},{"w":8624,"f":-0.125},{"w":8627,"f":-0.179},{"w":8631,"f":-0.358},{"w":8635,"f":0.038},{"w":8639,"f":0.211},{"w":8643,"f":0.016},{"w":8647,"f":-0.200},{"w":8651,"f":0.504},{"w":8655,"f":0.060},{"w":8659,"f":-0.038},{"w":8663,"f":0.049},{"w":8667,"f":-0.168},{"w":8670,"f":-0.049},{"w":8674,"f":-0.303},{"w":8678,"f":0.049},{"w":8682,"f":-0.016},{"w":8686,"f":0.168},{"w":8690,"f":-0.049},{"w":8694,"f":-0.157},{"w":8697,"f":0.157},{"w":8700,"f":-0.038},{"w":8704,"f":-0.233},{"w":8708,"f":0.060},{"w":8712,"f":0.038},{"w":8716,"f":0.092},{"w":8720,"f":0.060},{"w":8724,"f":0.114},{"w":8728,"f":0.211},{"w":8732,"f":0.016},{"w":8736,"f":-0.190},{"w":8740,"f":0.081},{"w":8744,"f":0.233},{"w":8747,"f":0.103},{"w":8751,"f":0.580},{"w":8755,"f":0.016},{"w":8759,"f":-0.325},{"w":8763,"f":0.309},{"w":8767,"f":0.298},{"w":8771,"f":-0.504},{"w":8774,"f":-0.829},{"w":8776,"f":-0.005},{"w":8780,"f":0.005},{"w":8784,"f":0.103},{"w":8788,"f":0.607},{"w":8792,"f":0.168},{"w":8796,"f":0.016},{"w":8800,"f":0.244},{"w":8804,"f":0.146},{"w":8807,"f":-0.135},{"w":8811,"f":-0.070},{"w":8815,"f":-0.070},{"w":8819,"f":-0.125},{"w":8823,"f":0.341},{"w":8827,"f":0.157},{"w":8831,"f":0.092},{"w":8835,"f":-0.103},{"w":8839,"f":0.103},{"w":8843,"f":-0.190},{"w":8847,"f":0.309},{"w":8851,"f":-0.027},{"w":8854,"f":0.060},{"w":8858,"f":-0.081},{"w":8862,"f":0.547},{"w":8866,"f":0.157},{"w":8870,"f":0.081},{"w":8874,"f":0.038},{"w":8878,"f":-0.179},{"w":8882,"f":-0.460},{"w":8886,"f":0.038},{"w":8890,"f":-0.157},{"w":8894,"f":-0.211},{"w":8897,"f":0.211},{"w":8901,"f":-0.038},{"w":8905,"f":-0.135},{"w":8909,"f":-0.244},{"w":8913,"f":0.146},{"w":8917,"f":-0.038},{"w":8921,"f":-0.027},{"w":8925,"f":0.233},{"w":8929,"f":0.038},{"w":8933,"f":0.060},{"w":8937,"f":-0.244},{"w":8941,"f":0.114},{"w":8944,"f":0.016},{"w":8948,"f":-0.070},{"w":8952,"f":-0.607},{"w":8956,"f":-0.060},{"w":8960,"f":0.049},{"w":8964,"f":0.049},{"w":8968,"f":-0.222},{"w":8972,"f":0.179},{"w":8976,"f":-0.125},{"w":8980,"f":0.146},{"w":8982,"f":-0.417},{"w":8986,"f":0.190},{"w":8990,"f":0.016},{"w":8994,"f":-0.255},{"w":8998,"f":0.190},{"w":9002,"f":0.222},{"w":9006,"f":-0.070},{"w":9010,"f":-0.070},{"w":9014,"f":-0.157},{"w":9017,"f":-0.125},{"w":9021,"f":0.081},{"w":9025,"f":0.070},{"w":9029,"f":0.038},{"w":9033,"f":0.211},{"w":9037,"f":0.038},{"w":9041,"f":0.146},{"w":9045,"f":0.693},{"w":9049,"f":0.493},{"w":9053,"f":0.525},{"w":9057,"f":0.016},{"w":9061,"f":-0.168},{"w":9064,"f":0.092},{"w":9068,"f":0.244},{"w":9072,"f":0.038},{"w":9076,"f":0.081},{"w":9080,"f":-0.125},{"w":9084,"f":0.081},{"w":9088,"f":-0.016},{"w":9092,"f":0.255},{"w":9096,"f":-0.114},{"w":9100,"f":0.553},{"w":9104,"f":0.038},{"w":9108,"f":-0.168},{"w":9111,"f":0.027},{"w":9115,"f":0.027},{"w":9119,"f":-0.027},{"w":9123,"f":-0.092},{"w":9127,"f":0.092},{"w":9131,"f":-0.157},{"w":9135,"f":0.038},{"w":9139,"f":0.038},{"w":9143,"f":-0.146},{"w":9147,"f":0.038},{"w":9151,"f":0.222},{"w":9154,"f":0.005},{"w":9158,"f":-0.125},{"w":9162,"f":-0.027},{"w":9166,"f":-0.103},{"w":9170,"f":0.222},{"w":9174,"f":0.255},{"w":9178,"f":0.265},{"w":9182,"f":0.233},{"w":9186,"f":0.060},{"w":9190,"f":0.146},{"w":9194,"f":0.200},{"w":9198,"f":0.038},{"w":9201,"f":-0.228},{"w":9205,"f":0.038},{"w":9209,"f":0.330},{"w":9213,"f":0.146},{"w":9217,"f":-0.206},{"w":9221,"f":0.114},{"w":9225,"f":0.038},{"w":9229,"f":-0.287},{"w":9233,"f":-0.038},{"w":9237,"f":-0.092},{"w":9241,"f":0.190},{"w":9245,"f":0.114},{"w":9248,"f":0.190},{"w":9252,"f":-0.005},{"w":9256,"f":0.190},{"w":9260,"f":0.038},{"w":9264,"f":0.005},{"w":9268,"f":0.244},{"w":9272,"f":-0.049},{"w":9276,"f":0.092},{"w":9280,"f":-0.184},{"w":9284,"f":0.081},{"w":9288,"f":0.049},{"w":9292,"f":0.233},{"w":9295,"f":0.249},{"w":9298,"f":0.190}
]
},
"encoding": {
  "x": {"field": "w", "type": "quantitative", "scale": {"domain": [4750, 9300], "nice": false, "zero": false},
        "axis": {"title": "Wavelength", "values": [5000, 6000, 7000, 8000, 9000], "format": "d", "labelFontSize": 28, "titleFontSize": 33, "labelPadding": 15, "titlePadding": 0, "labelFlush": false}},
  "y": {"field": "f", "type": "quantitative", "scale": {"domain": [-0.904, 0.796], "nice": false, "zero": false},
        "axis": {"title": "10⁻¹⁸ erg s⁻¹ cm⁻² Å⁻¹", "values": [-0.8, -0.6, -0.4, -0.2, 0, 0.2, 0.4, 0.6], "format": ".1f", "labelFontSize": 35, "titleFontSize": 46, "labelPadding": 18, "titlePadding": 22, "labelFlush": false}}
},
"layer": [
  {"data": {"name": "sky"}, "mark": {"type": "line", "color": "#008000", "strokeWidth": 1.4, "clip": true, "strokeJoin": "round"}},
  {"data": {"name": "zero"}, "mark": {"type": "line", "color": "#0000ff", "strokeWidth": 5.5, "clip": true}},
  {"data": {"name": "spec"}, "mark": {"type": "line", "color": "#000000", "strokeWidth": 4, "clip": true, "strokeJoin": "round"}}
]
}
